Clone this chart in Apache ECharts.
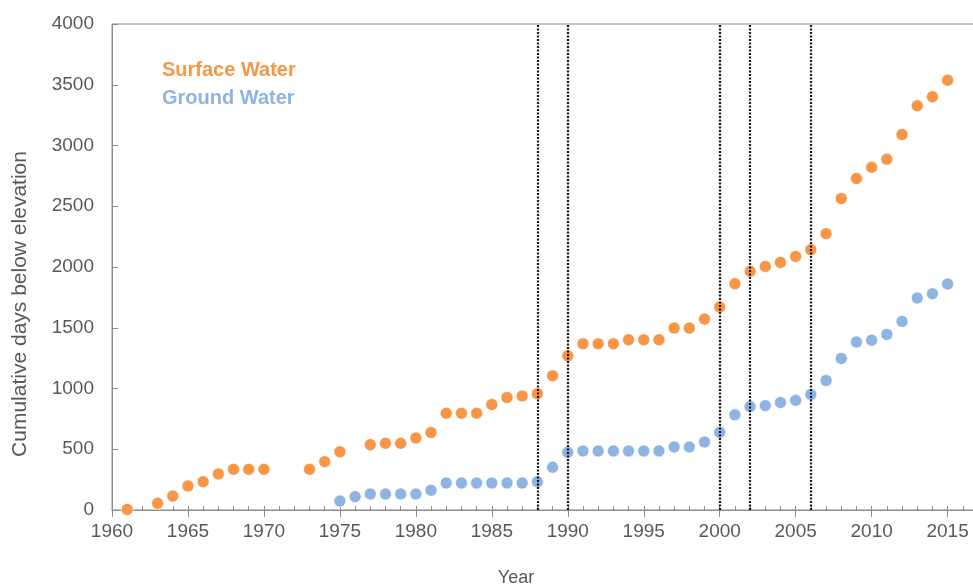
<!DOCTYPE html>
<html>
<head>
<meta charset="utf-8">
<script src="https://cdn.jsdelivr.net/npm/echarts@6/dist/echarts.min.js"></script>
<style>
html,body{margin:0;padding:0;background:#fff;}
#chart{width:973px;height:588px;}
</style>
</head>
<body>
<div id="chart"></div>
<script>
// ---- Data ----
var surfaceYears = [1961,1963,1964,1965,1966,1967,1968,1969,1970,1973,1974,1975,
  1977,1978,1979,1980,1981,1982,1983,1984,1985,1986,1987,1988,1989,1990,1991,1992,1993,1994,1995,1996,1997,1998,1999,
  2000,2001,2002,2003,2004,2005,2006,2007,2008,2009,2010,2011,2012,2013,2014,2015];
var surfaceValues = [5,55,115,198,233,297,335,335,335,335,398,480,
  538,549,549,593,637,797,797,797,868,925,939,956,1104,1269,1368,1368,1368,1401,1401,1401,1497,1497,1571,
  1670,1862,1964,2005,2038,2087,2142,2274,2563,2728,2821,2887,3090,3327,3401,3538];
var groundYears = [1975,1976,1977,1978,1979,1980,1981,1982,1983,1984,1985,1986,1987,1988,1989,1990,
  1991,1992,1993,1994,1995,1996,1997,1998,1999,2000,2001,2002,2003,2004,2005,2006,2007,2008,2009,2010,2011,2012,2013,2014,2015];
var groundValues = [74,110,132,132,132,132,162,222,222,222,222,222,222,233,352,475,
  486,486,486,486,486,486,519,519,560,640,783,851,859,884,903,950,1066,1247,1382,1398,1445,1552,1745,1780,1860];
var markerYears = [1988,1990,2000,2002,2006];
var seriesNames = ['Surface Water','Ground Water'];
var axisNames = {x:'Year', y:'Cumulative days below elevation'};

// ---- Chart ----
var FONT = "'Liberation Sans', Arial, sans-serif";
var orange = '#F79646', blue = '#8DB4E2', grey = '#595959', axisGrey = '#8c8c8c';
function zip(xs, ys){ return xs.map(function(x,i){ return [x, ys[i]]; }); }

var chart = echarts.init(document.getElementById('chart'));
chart.setOption({
  animation: false,
  textStyle: {fontFamily: FONT},
  grid: {left:112, top:24, width:866, height:486, containLabel:false, outerBoundsMode:'none',
    show:true, borderColor:axisGrey, borderWidth:1},
  legend: {
    orient:'vertical', left:157, top:60, padding:0, icon:'none', itemWidth:0, itemHeight:20, itemGap:8,
    selectedMode:false,
    textStyle:{fontSize:20, fontWeight:'bold', fontFamily:FONT},
    data:[
      {name:seriesNames[0], textStyle:{color:orange}},
      {name:seriesNames[1], textStyle:{color:blue}}
    ]
  },
  xAxis: [{
    type:'value', min:1960, max:2017, interval:5,
    axisLine:{show:true, lineStyle:{color:axisGrey}},
    axisTick:{show:true, inside:false, length:7, lineStyle:{color:axisGrey}},
    axisLabel:{fontSize:19, color:grey, margin:12, showMaxLabel:false, fontFamily:FONT,
      formatter:function(v){ return v % 5 === 0 ? String(v) : ''; }},
    splitLine:{show:false}
  },{
    type:'value', min:1960, max:2017, interval:1, position:'bottom',
    axisLine:{show:false},
    axisTick:{show:true, inside:true, length:4, lineStyle:{color:axisGrey}},
    axisLabel:{show:false},
    splitLine:{show:false}
  }],
  yAxis: {
    type:'value', min:0, max:4000, interval:500,
    axisLine:{show:true, lineStyle:{color:axisGrey}},
    axisTick:{show:true, inside:true, length:6, lineStyle:{color:axisGrey}},
    axisLabel:{fontSize:19, color:grey, margin:18, fontFamily:FONT,
      formatter:function(v){ return String(v); }},
    splitLine:{show:false}
  },
  graphic: [
    {type:'text', x:516, y:578,
      style:{text:axisNames.x, fontSize:18, fill:grey, fontFamily:FONT, textAlign:'center', textVerticalAlign:'middle'}},
    {type:'text', x:20, y:304, rotation:Math.PI/2,
      style:{text:axisNames.y, fontSize:21, fill:grey, fontFamily:FONT, textAlign:'center', textVerticalAlign:'middle'}}
  ],
  series: [{
    name:seriesNames[0], type:'scatter', xAxisIndex:0, symbolSize:12,
    itemStyle:{color:orange, borderColor:'rgba(255,255,255,0.6)', borderWidth:1, opacity:1},
    data: zip(surfaceYears, surfaceValues),
    z:2
  },{
    name:seriesNames[1], type:'scatter', xAxisIndex:0, symbolSize:12,
    itemStyle:{color:blue, borderColor:'rgba(255,255,255,0.6)', borderWidth:1, opacity:1},
    data: zip(groundYears, groundValues),
    z:2,
    markLine:{
      silent:true, symbol:['none','none'], label:{show:false},
      lineStyle:{color:'#000', type:[2,1.5], width:2.2, opacity:0.9},
      data: markerYears.map(function(y){ return {xAxis:y}; }),
      z:5
    }
  }]
});
</script>
</body>
</html>
